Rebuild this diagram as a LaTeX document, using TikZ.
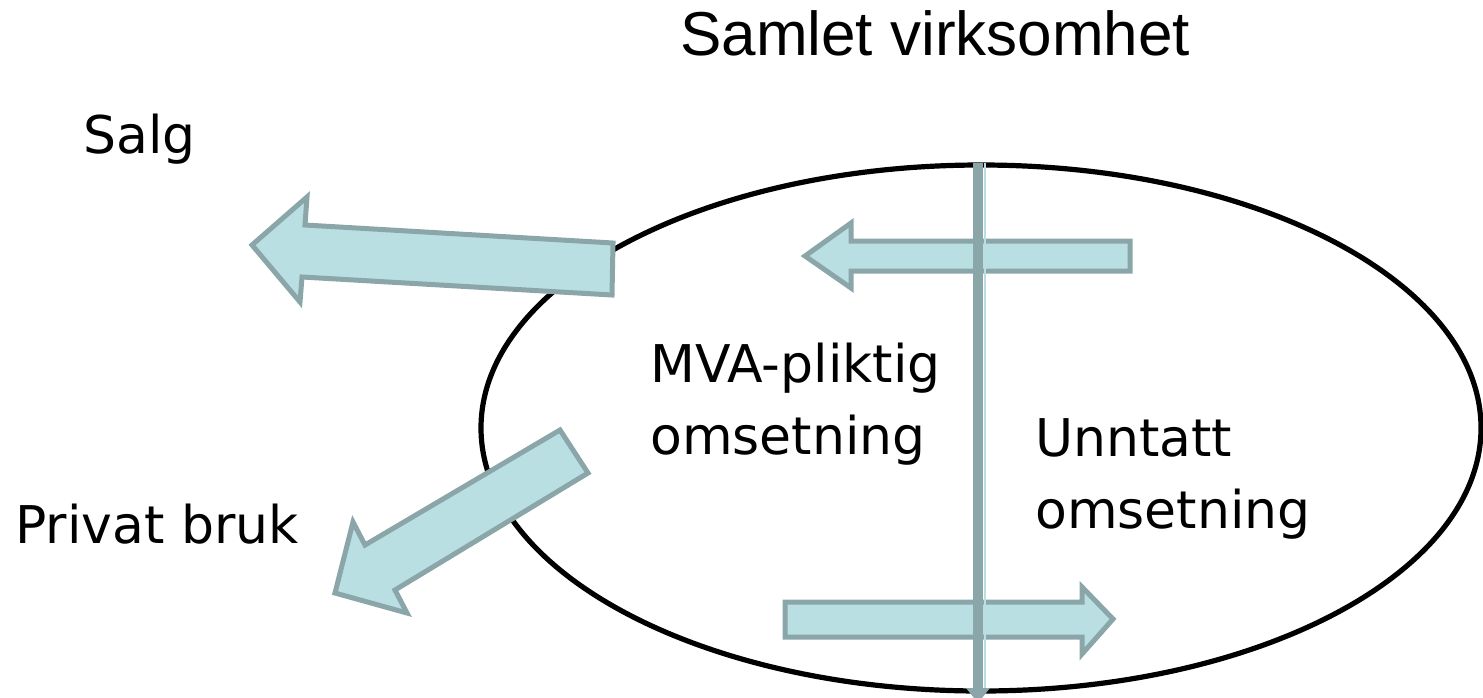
\documentclass[tikz,border=0pt]{standalone}
\usepackage{fontspec}
\setmainfont{DejaVu Sans}
\newfontfamily\titlefont{Liberation Sans}
\usetikzlibrary{arrows.meta}
\definecolor{blockfill}{HTML}{B9DFE3}
\definecolor{blockline}{HTML}{8AA6A8}
\tikzset{
  blockarrow/.style={fill=blockfill, draw=blockline, line width=3.75pt, line join=miter},
  label/.style={inner sep=0pt, align=left, font=\fontsize{39pt}{54pt}\selectfont},
  divider/.style={draw=blockline, line width=7.5pt},
}
\begin{document}
\begin{tikzpicture}[x=0.75pt, y=-0.75pt]
\useasboundingbox (0,0) rectangle (1483,697);

% the whole business
\draw[line width=3.9pt] (981,428) ellipse [x radius=500, y radius=263];

% sales out of the VAT part
\draw[blockarrow] (613,243) -- (612,295) -- (302,277) -- (300,302) -- (252,245)
  -- (307,197) -- (305,225) -- cycle;
% private use
\draw[blockarrow] (560,430) -- (588,473) -- (395,590) -- (407,613) -- (335,593)
  -- (353,522) -- (365,545) -- cycle;
% exempt -> VAT liable
\draw[blockarrow] (1130,241) -- (1130,271) -- (851,271) -- (851,288) -- (805,256)
  -- (851,223) -- (851,241) -- cycle;
% VAT liable -> exempt
\draw[blockarrow] (785,602) -- (1082,602) -- (1082,587) -- (1113,619) -- (1082,654)
  -- (1082,637) -- (785,637) -- cycle;

% divider between the two parts
\coordinate (dtop) at (978,163);
\coordinate (dbot) at (978,688);
\draw[divider] (dtop) -- (dbot);
\draw[blockfill, line width=1.5pt] (984.5,163) -- (984.5,688);
\fill[blockline] (966,688) -- (990,688) -- (978,703) -- cycle;

% labels (base anchor of a two-line node sits on its last line)
\node[inner sep=0pt, anchor=base west, font=\titlefont\fontsize{46.5pt}{56pt}\selectfont]
  (title) at (680,55) {Samlet virksomhet};
\node[label, anchor=base west] (salg) at (83,153) {Salg};
\node[label, anchor=base west] (privat) at (15,543) {Privat bruk};
\node[label, anchor=base west] (mva) at (650,454) {MVA-pliktig\\omsetning};
\node[label, anchor=base west] (unntatt) at (1035,528) {Unntatt\\omsetning};
\end{tikzpicture}
\end{document}
